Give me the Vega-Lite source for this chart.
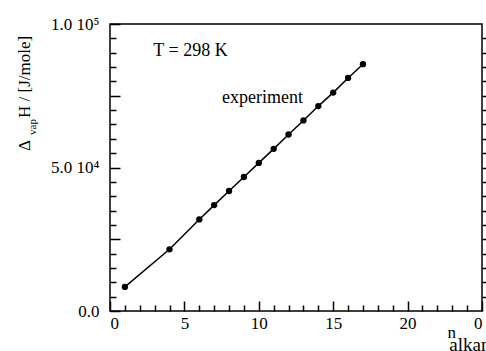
{
  "$schema": "https://vega.github.io/schema/vega-lite/v6.json",
  "width": 372,
  "height": 287,
  "autosize": {"type": "none"},
  "padding": {"left": 110, "top": 24, "right": 4, "bottom": 40},
  "background": "white",
  "config": {
    "view": {"stroke": "black", "strokeWidth": 1.5},
    "font": "Liberation Serif",
    "text": {"font": "Liberation Serif", "fontWeight": "normal", "fill": "black"},
    "axis": {
      "domain": false,
      "grid": false,
      "tickColor": "black",
      "tickWidth": 1.5,
      "labelFont": "Liberation Serif",
      "labelColor": "black",
      "labelFontSize": 17,
      "titleFont": "Liberation Serif",
      "titleFontWeight": "normal",
      "titleColor": "black",
      "titleFontSize": 17
    }
  },
  "data": {
    "values": [
      {"n": 1, "H": 8400},
      {"n": 4, "H": 21500},
      {"n": 6, "H": 31900},
      {"n": 7, "H": 36900},
      {"n": 8, "H": 41800},
      {"n": 9, "H": 46700},
      {"n": 10, "H": 51600},
      {"n": 11, "H": 56500},
      {"n": 12, "H": 61500},
      {"n": 13, "H": 66400},
      {"n": 14, "H": 71400},
      {"n": 15, "H": 76100},
      {"n": 16, "H": 81200},
      {"n": 17, "H": 86000}
    ]
  },
  "layer": [
    {
      "mark": {"type": "line", "color": "black", "strokeWidth": 1.5},
      "encoding": {
        "x": {
          "field": "n", "type": "quantitative",
          "scale": {"domain": [0, 25], "nice": false, "zero": false},
          "axis": {"orient": "bottom", "values": [1,2,3,4,6,7,8,9,11,12,13,14,16,17,18,19,21,22,23,24], "tickSize": -6, "labels": false, "title": null}
        },
        "y": {
          "field": "H", "type": "quantitative",
          "scale": {"domain": [0, 100000], "nice": false},
          "axis": {"orient": "left", "values": [5000,10000,15000,20000,30000,35000,40000,45000,55000,60000,65000,70000,80000,85000,90000,95000], "tickSize": -6, "labels": false, "title": null}
        }
      }
    },
    {
      "mark": {"type": "point", "filled": true, "color": "black", "size": 40, "opacity": 1},
      "encoding": {
        "x": {
          "field": "n", "type": "quantitative",
          "axis": {
            "orient": "bottom", "values": [0, 5, 10, 15, 20, 25], "tickSize": -10, "labelPadding": 14,
            "labelExpr": "datum.value == 25 ? '0' : datum.label",
            "title": "n", "titleX": 337, "titleY": 26, "titleAlign": "left", "titleBaseline": "alphabetic"
          }
        },
        "y": {
          "field": "H", "type": "quantitative",
          "axis": {
            "orient": "left", "values": [0, 25000, 50000, 75000, 100000], "tickSize": -10, "labelPadding": 21,
            "labelExpr": "datum.value == 0 ? '0.0' : datum.value == 50000 ? '5.0 10⁴' : datum.value == 100000 ? '1.0 10⁵' : ''",
            "title": null
          }
        }
      }
    },
    {
      "data": {"values": [{}]},
      "mark": {"type": "text", "fontSize": 18, "align": "center", "baseline": "alphabetic"},
      "encoding": {
        "x": {"datum": 5.41, "type": "quantitative", "axis": null},
        "y": {"datum": 88850, "type": "quantitative", "axis": {"orient": "right", "values": [5000,10000,15000,20000,25000,30000,35000,40000,45000,50000,55000,60000,65000,70000,75000,80000,85000,90000,95000], "tickSize": 5, "labels": false, "title": null}},
        "text": {"value": "T = 298 K"}
      }
    },
    {
      "data": {"values": [{}]},
      "mark": {"type": "text", "fontSize": 18, "align": "center", "baseline": "alphabetic"},
      "encoding": {
        "x": {"datum": 10.25, "type": "quantitative", "axis": null},
        "y": {"datum": 72470, "type": "quantitative", "axis": null},
        "text": {"value": "experiment"}
      }
    },
    {
      "data": {"values": [{}]},
      "mark": {"type": "text", "fontSize": 19, "align": "left", "baseline": "alphabetic"},
      "encoding": {
        "x": {"datum": 22.8, "type": "quantitative", "axis": null},
        "y": {"datum": -13937, "type": "quantitative", "axis": null},
        "text": {"value": "alkane"}
      }
    },
    {
      "data": {"values": [{}]},
      "mark": {"type": "text", "fontSize": 17, "align": "left", "baseline": "alphabetic", "angle": 270},
      "encoding": {
        "x": {"datum": -5.376, "type": "quantitative", "axis": null},
        "y": {"datum": 55750, "type": "quantitative", "axis": null},
        "text": {"value": "Δ"}
      }
    },
    {
      "data": {"values": [{}]},
      "mark": {"type": "text", "fontSize": 11, "align": "left", "baseline": "alphabetic", "angle": 270},
      "encoding": {
        "x": {"datum": -4.97, "type": "quantitative", "axis": null},
        "y": {"datum": 61324, "type": "quantitative", "axis": null},
        "text": {"value": "vap"}
      }
    },
    {
      "data": {"values": [{}]},
      "mark": {"type": "text", "fontSize": 17, "align": "left", "baseline": "alphabetic", "angle": 270},
      "encoding": {
        "x": {"datum": -5.376, "type": "quantitative", "axis": null},
        "y": {"datum": 67247, "type": "quantitative", "axis": null},
        "text": {"value": "H / [J/mole]"}
      }
    }
  ],
  "resolve": {"axis": {"x": "independent", "y": "independent"}}
}
